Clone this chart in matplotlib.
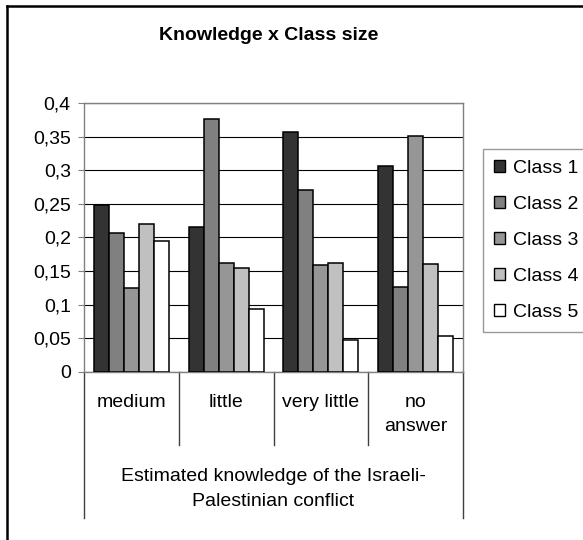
import matplotlib
matplotlib.use("Agg")
import matplotlib.pyplot as plt
import numpy as np
from matplotlib.lines import Line2D
from matplotlib.patches import Patch

plt.rcParams["font.family"] = ["Liberation Sans", "DejaVu Sans"]

# ── data ──────────────────────────────────────────────────────────────────
categories = ["medium", "little", "very little", "no\nanswer"]
series_names = ["Class 1", "Class 2", "Class 3", "Class 4", "Class 5"]
class1 = [0.249, 0.215, 0.357, 0.307]
class2 = [0.206, 0.376, 0.271, 0.126]
class3 = [0.125, 0.162, 0.159, 0.351]
class4 = [0.220, 0.154, 0.162, 0.160]
class5 = [0.195, 0.093, 0.048, 0.054]
series_values = [class1, class2, class3, class4, class5]
y_ticks = [0, 0.05, 0.1, 0.15, 0.2, 0.25, 0.3, 0.35, 0.4]
y_tick_labels = ["0", "0,05", "0,1", "0,15", "0,2", "0,25", "0,3", "0,35", "0,4"]
title = "Knowledge x Class size"
group_label = "Estimated knowledge of the Israeli-\nPalestinian conflict"

colors = ["#333333", "#808080", "#969696", "#c0c0c0", "#ffffff"]

W, H = 583, 540
FS = 14

fig = plt.figure(figsize=(W / 100, H / 100), dpi=100)

# plot area in pixel coords: x 84..463, y 103..372
ax = fig.add_axes([84 / W, 1 - 372 / H, (463 - 84) / W, (372 - 103) / H])

x = np.arange(len(categories))
bar_w = 0.158
for j, (vals, col, name) in enumerate(zip(series_values, colors, series_names)):
    ax.bar(x + (j - 2) * bar_w, vals, width=bar_w, color=col,
           edgecolor="black", linewidth=1.1, zorder=3, label=name)

ax.set_xlim(-0.5, len(categories) - 0.5)
ax.set_ylim(0, 0.4)
ax.set_yticks(y_ticks)
ax.set_yticklabels(y_tick_labels, fontsize=FS)
ax.set_xticks([])
ax.tick_params(axis="y", direction="out", length=4.5, width=0.8,
               color="#808080", pad=5)
ax.yaxis.grid(True, color="black", linewidth=0.8, zorder=0)
for s in ax.spines.values():
    s.set_color("#808080")
    s.set_linewidth(1.0)

# category labels and separators below the axis
trans = ax.get_xaxis_transform()
for i, cat in enumerate(categories):
    ax.text(i, -0.08, cat, transform=trans, ha="center", va="top",
            fontsize=FS, linespacing=1.55)
for k, xs in enumerate(np.arange(len(categories) + 1) - 0.5):
    outer = k == 0 or k == len(categories)
    y_end = -0.543 if outer else -0.271
    ax.plot([xs, xs], [0, y_end], transform=trans, color="#404040",
            linewidth=1.0, clip_on=False)
ax.text(np.mean(x), -0.358, group_label, transform=trans, ha="center",
        va="top", fontsize=FS, linespacing=1.6)

# title
fig.text(269 / W, 1 - 35 / H, title, ha="center", va="center",
         fontsize=FS, fontweight="bold")

# legend
handles = [Patch(facecolor=c, edgecolor="black", linewidth=1.0) for c in colors]
leg = fig.legend(handles, series_names, loc="upper left",
                 bbox_to_anchor=(483 / W, 1 - 149 / H), fontsize=FS,
                 frameon=True, fancybox=False, borderaxespad=0,
                 handlelength=0.6, handleheight=0.6, handletextpad=0.4,
                 labelspacing=0.98, borderpad=0.55)
leg.get_frame().set_edgecolor("#808080")
leg.get_frame().set_linewidth(1.0)

# chart frame (top and left edges visible)
fig.add_artist(Line2D([7 / W, 1], [1 - 6 / H, 1 - 6 / H],
                      transform=fig.transFigure, color="black", linewidth=1.8))
fig.add_artist(Line2D([7 / W, 7 / W], [0, 1 - 6 / H],
                      transform=fig.transFigure, color="black", linewidth=1.8))

fig.savefig("out.png", dpi=100)
